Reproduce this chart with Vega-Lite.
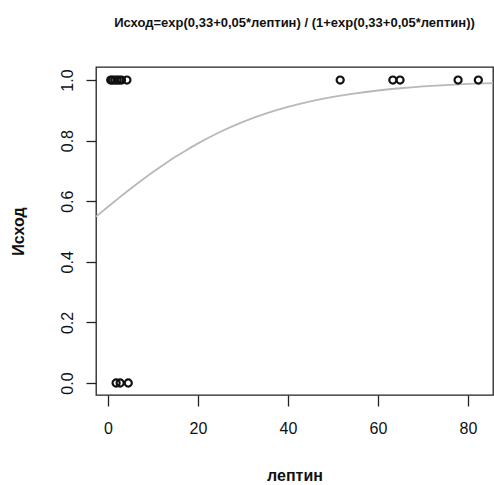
{
  "$schema": "https://vega.github.io/schema/vega-lite/v6.json",
  "width": 397,
  "height": 328,
  "autosize": {"type": "none"},
  "padding": {"left": 96, "top": 67, "right": 1, "bottom": 90},
  "background": "white",
  "config": {
    "view": {"stroke": "#222222", "strokeWidth": 1.3},
    "font": "Liberation Sans"
  },
  "title": {
    "text": "Исход=exp(0,33+0,05*лептин) / (1+exp(0,33+0,05*лептин))",
    "font": "Liberation Sans",
    "fontSize": 13,
    "fontWeight": "bold",
    "color": "#111111",
    "anchor": "middle",
    "offset": 37
  },
  "datasets": {
    "curve": [
      {"leptin": -2.67, "p": 0.5490},
      {"leptin": 0, "p": 0.5818},
      {"leptin": 2.5, "p": 0.6118},
      {"leptin": 5, "p": 0.6411},
      {"leptin": 7.5, "p": 0.6693},
      {"leptin": 10, "p": 0.6964},
      {"leptin": 12.5, "p": 0.7221},
      {"leptin": 15, "p": 0.7465},
      {"leptin": 17.5, "p": 0.7693},
      {"leptin": 20, "p": 0.7908},
      {"leptin": 25, "p": 0.8292},
      {"leptin": 30, "p": 0.8618},
      {"leptin": 35, "p": 0.8890},
      {"leptin": 40, "p": 0.9113},
      {"leptin": 45, "p": 0.9296},
      {"leptin": 50, "p": 0.9443},
      {"leptin": 55, "p": 0.9561},
      {"leptin": 60, "p": 0.9654},
      {"leptin": 65, "p": 0.9729},
      {"leptin": 70, "p": 0.9788},
      {"leptin": 75, "p": 0.9834},
      {"leptin": 80, "p": 0.9870},
      {"leptin": 85.56, "p": 0.9901}
    ],
    "points": [
      {"leptin": 0.6, "outcome": 1},
      {"leptin": 1.0, "outcome": 1},
      {"leptin": 1.5, "outcome": 1},
      {"leptin": 2.0, "outcome": 1},
      {"leptin": 2.5, "outcome": 1},
      {"leptin": 3.0, "outcome": 1},
      {"leptin": 4.2, "outcome": 1},
      {"leptin": 51.6, "outcome": 1},
      {"leptin": 63.3, "outcome": 1},
      {"leptin": 64.9, "outcome": 1},
      {"leptin": 77.8, "outcome": 1},
      {"leptin": 82.3, "outcome": 1},
      {"leptin": 1.8, "outcome": 0},
      {"leptin": 2.7, "outcome": 0},
      {"leptin": 4.5, "outcome": 0}
    ]
  },
  "encoding": {
    "x": {
      "field": "leptin",
      "type": "quantitative",
      "scale": {"domain": [-2.67, 85.56], "nice": false, "zero": false},
      "axis": {
        "title": "лептин",
        "values": [0, 20, 40, 60, 80],
        "grid": false,
        "domain": false,
        "tickColor": "#222222",
        "tickWidth": 1.3,
        "tickSize": 11,
        "labelFontSize": 16,
        "labelColor": "#111111",
        "labelPadding": 14,
        "titleFontSize": 16,
        "titleFontWeight": "bold",
        "titleColor": "#111111",
        "titleBaseline": "alphabetic",
        "titleY": 85
      }
    },
    "y": {
      "field": "outcome",
      "type": "quantitative",
      "scale": {"domain": [-0.0396, 1.043], "nice": false, "zero": false},
      "axis": {
        "title": "Исход",
        "values": [0, 0.2, 0.4, 0.6, 0.8, 1.0],
        "format": ".1f",
        "grid": false,
        "domain": false,
        "tickColor": "#222222",
        "tickWidth": 1.3,
        "tickSize": 10,
        "labelFontSize": 16,
        "labelAngle": -90,
        "labelAlign": "center",
        "labelBaseline": "bottom",
        "labelColor": "#111111",
        "labelPadding": 11,
        "titleFontSize": 16,
        "titleFontWeight": "bold",
        "titleColor": "#111111",
        "titleX": -70,
        "titleBaseline": "bottom"
      }
    }
  },
  "layer": [
    {
      "data": {"name": "curve"},
      "mark": {"type": "line", "color": "#b8b8b8", "strokeWidth": 1.8, "interpolate": "monotone", "clip": true},
      "encoding": {
        "y": {"field": "p", "type": "quantitative"}
      }
    },
    {
      "data": {"name": "points"},
      "mark": {"type": "point", "shape": "circle", "filled": false, "stroke": "#111111", "strokeWidth": 2.2, "size": 50, "opacity": 1}
    }
  ]
}
